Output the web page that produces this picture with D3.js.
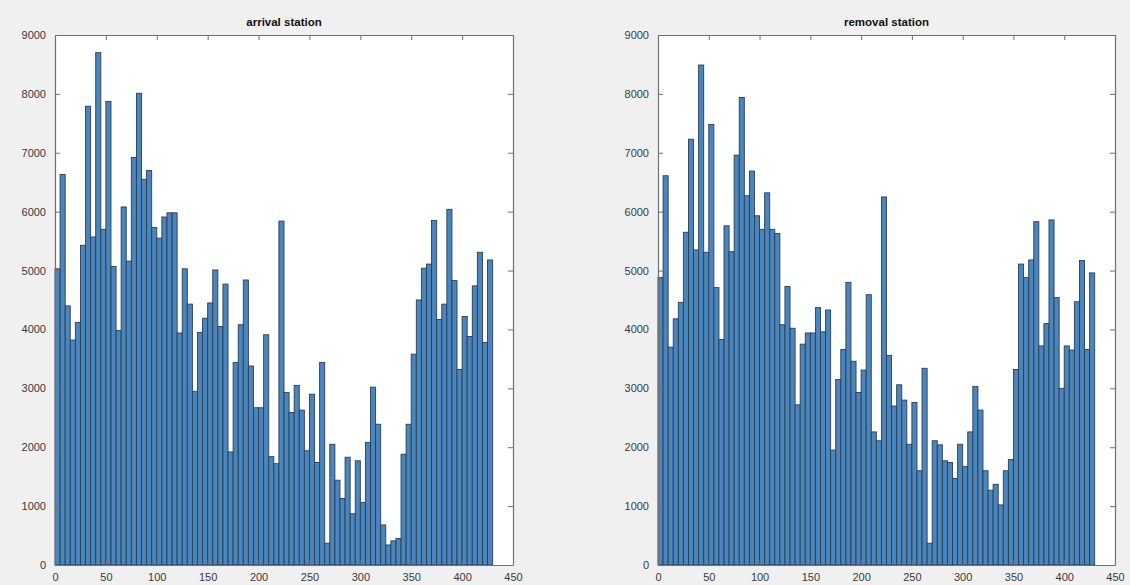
<!DOCTYPE html>
<html>
<head>
<meta charset="utf-8">
<script src="https://cdn.jsdelivr.net/npm/d3@7"></script>
<style>
	html, body { margin: 0; padding: 0; background: #f0f0f0; }
	svg { display: block; font-family: "Liberation Sans", Arial, sans-serif; }
</style>
</head>
<body>
<svg id="chart" width="1130" height="585"></svg>
<script>
	"use strict";

	// bin width of the histograms, bins start at 0
	var binWidth = 5;

	var arrivalCounts = [
		5030, 6630, 4400, 3820, 4120, 5430, 7790, 5570, 8700, 5700,
		7870, 5070, 3980, 6080, 5160, 6920, 8010, 6550, 6700, 5730,
		5550, 5910, 5980, 5980, 3940, 5030, 4430, 2950, 3950, 4190,
		4450, 5010, 4050, 4770, 1920, 3440, 4080, 4840, 3380, 2670,
		2670, 3910, 1840, 1720, 5840, 2930, 2590, 3050, 2630, 1940,
		2900, 1740, 3440, 370, 2050, 1440, 1130, 1830, 870, 1770,
		1060, 2080, 3020, 2390, 680, 340, 410, 450, 1880, 2390,
		3580, 4500, 5040, 5110, 5850, 4170, 4430, 6040, 4830, 3320,
		4220, 3880, 4740, 5310, 3780, 5180
	];

	var removalCounts = [
		4880, 6610, 3700, 4180, 4460, 5650, 7230, 5350, 8490, 5310,
		7480, 4710, 3830, 5760, 5320, 6960, 7940, 6270, 6690, 5930,
		5700, 6320, 5700, 5630, 4080, 4730, 4020, 2720, 3750, 3940,
		3940, 4370, 3960, 4330, 1950, 3150, 3660, 4800, 3460, 2930,
		3310, 4590, 2260, 2110, 6250, 3560, 2700, 3060, 2800, 2050,
		2760, 1600, 3340, 370, 2110, 2040, 1770, 1740, 1470, 2050,
		1670, 2260, 3030, 2630, 1600, 1270, 1370, 1020, 1600, 1790,
		3320, 5110, 4880, 5180, 5830, 3720, 4100, 5860, 4540, 3000,
		3720, 3650, 4470, 5170, 3660, 4960
	];

	var xTicks = [0, 50, 100, 150, 200, 250, 300, 350, 400, 450];
	var yTicks = [0, 1000, 2000, 3000, 4000, 5000, 6000, 7000, 8000, 9000];

	var panels = [
		{ title: "arrival station", counts: arrivalCounts, left: 55, right: 513 },
		{ title: "removal station", counts: removalCounts, left: 658, right: 1115 }
	];

	var plotTop = 35, plotBottom = 565, tickLen = 5;
	var svg = d3.select("#chart");

	panels.forEach(function (oPanel) {
		var x = d3.scaleLinear().domain([0, 450]).range([oPanel.left, oPanel.right]);
		var y = d3.scaleLinear().domain([0, 9000]).range([plotBottom, plotTop]);

		var g = svg.append("g");

		// white plot box
		g.append("rect")
			.attr("x", x(0)).attr("y", y(9000))
			.attr("width", x(450) - x(0)).attr("height", y(0) - y(9000))
			.attr("fill", "#ffffff");

		// histogram bars
		g.append("g").selectAll("rect")
			.data(oPanel.counts)
			.enter().append("rect")
			.attr("x", function (d, i) { return x(i * binWidth); })
			.attr("width", function (d, i) { return x((i + 1) * binWidth) - x(i * binWidth); })
			.attr("y", function (d) { return y(d); })
			.attr("height", function (d) { return y(0) - y(d); })
			.attr("fill", "#4a86bd")
			.attr("stroke", "#2a3e52")
			.attr("stroke-width", 0.9);

		// axes, ticks inside on all four sides
		var fmt = d3.format("d");
		var axisBottom = d3.axisBottom(x).tickValues(xTicks).tickFormat(fmt).tickSizeInner(-tickLen).tickSizeOuter(0).tickPadding(8);
		var axisTop = d3.axisTop(x).tickValues(xTicks).tickSizeInner(-tickLen).tickSizeOuter(0).tickFormat("");
		var axisLeft = d3.axisLeft(y).tickValues(yTicks).tickFormat(fmt).tickSizeInner(-tickLen).tickSizeOuter(0).tickPadding(9);
		var axisRight = d3.axisRight(y).tickValues(yTicks).tickSizeInner(-tickLen).tickSizeOuter(0).tickFormat("");

		g.append("g").attr("transform", "translate(0," + y(0) + ")").call(axisBottom);
		g.append("g").attr("transform", "translate(0," + y(9000) + ")").call(axisTop);
		g.append("g").attr("transform", "translate(" + x(0) + ",0)").call(axisLeft);
		g.append("g").attr("transform", "translate(" + x(450) + ",0)").call(axisRight);

		g.selectAll(".domain").attr("stroke", "#707070").attr("stroke-width", 1.2);
		g.selectAll(".tick line").attr("stroke", "#707070");
		g.selectAll(".tick text")
			.attr("fill", "#3a3a3a")
			.style("font-size", "11px");

		g.append("text")
			.attr("x", (x(0) + x(450)) / 2)
			.attr("y", 26)
			.attr("text-anchor", "middle")
			.attr("fill", "#111111")
			.style("font-size", "11.5px")
			.style("font-weight", "bold")
			.text(oPanel.title);
	});
</script>
</body>
</html>
